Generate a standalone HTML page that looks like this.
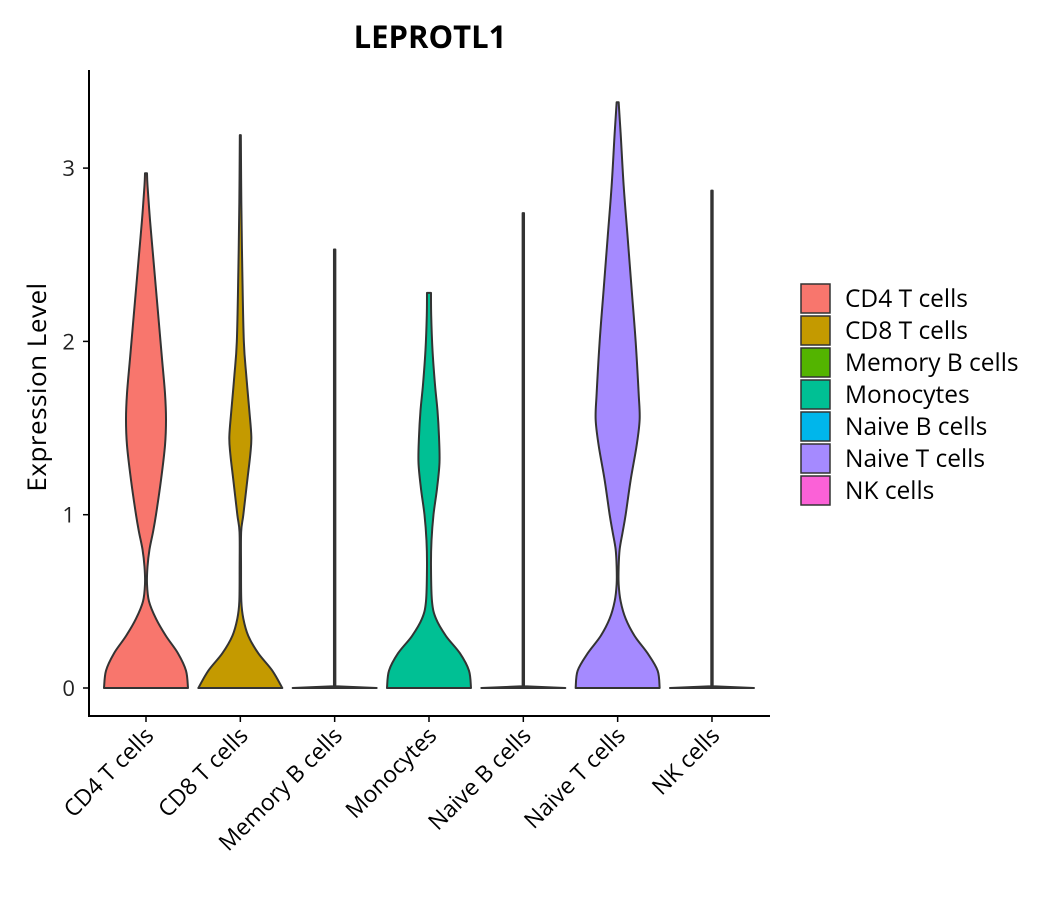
<!DOCTYPE html>
<html><head><meta charset="utf-8"><style>
body{margin:0;background:#fff;font-family:"Open Sans","DejaVu Sans","Liberation Sans",sans-serif}
</style></head><body>
<svg id="chart" width="1050" height="900" xmlns="http://www.w3.org/2000/svg">
<text x="430" y="48" text-anchor="middle" font-size="31" font-weight="bold" fill="#000">LEPROTL1</text>
<text transform="translate(46,387) rotate(-90)" text-anchor="middle" font-size="26" letter-spacing="0.5" fill="#000">Expression Level</text>
<g id="plot"></g>
<g id="legend"></g>
</svg>
<script>
const categories=["CD4 T cells","CD8 T cells","Memory B cells","Monocytes","Naive B cells","Naive T cells","NK cells"];
const colors=["#F8766D","#C49A00","#53B400","#00C094","#00B6EB","#A58AFF","#FB61D7"];
const yTicks=[0,1,2,3];
const maxVals=[2.97,3.19,2.53,2.28,2.74,3.38,2.87];
const densY=[
[0,0.1,0.2,0.3,0.4,0.5,0.6,0.7,0.8,0.9,1.0,1.2,1.4,1.55,1.7,1.9,2.1,2.3,2.5,2.7,2.9,2.97],
[0,0.1,0.2,0.3,0.4,0.5,0.7,0.9,1.0,1.2,1.35,1.45,1.6,1.8,2.0,2.4,2.8,3.19],
[0,0.01,2.53],
[0,0.1,0.2,0.3,0.4,0.5,0.7,0.85,1.0,1.15,1.3,1.45,1.6,1.75,1.95,2.15,2.28],
[0,0.01,2.74],
[0,0.1,0.2,0.3,0.4,0.5,0.6,0.7,0.8,0.9,1.0,1.2,1.4,1.55,1.7,2.0,2.3,2.6,2.9,3.2,3.38],
[0,0.01,2.87]];
const densW=[
[42,40,32,20,10,3,1,1.5,3.5,7,10,15,19,20,19,16,13,10,7,4,1.5,1],
[42,32,18,8,3,1,0.7,0.8,3,7,10,11,9,6,3.5,2,1,0.5],
[42,0.7,0.7],
[42,40,31,17,7,3,2,2.5,4.5,8,10.5,10,8.5,6,3.5,2.2,2],
[42,0.7,0.7],
[42,40,30,17,8,3,1,1,2,5,8,13,19,22,21,18,14,10,6,3,1],
[42,0.7,0.7]];
const X0=146,DX=94.33,Y0=688,PY=173.3;
const xs=i=>X0+i*DX, ys=v=>Y0-v*PY;
const NS="http://www.w3.org/2000/svg";
const plot=document.getElementById('plot');
function mk(t,a,p){const e=document.createElementNS(NS,t);for(const k in a)e.setAttribute(k,a[k]);(p||plot).appendChild(e);return e;}
categories.forEach((c,i)=>{
 const cx=xs(i),yy=densY[i],ww=densW[i];
 const smooth=yy.length>3;
 let right=[],left=[];
 for(let j=0;j<yy.length;j++)right.push([cx+ww[j],ys(yy[j])]);
 for(let j=yy.length-1;j>=0;j--)left.push([cx-ww[j],ys(yy[j])]);
 function seg(pts){
  let d="";
  for(let k=0;k<pts.length-1;k++){
   const p1=pts[k],p2=pts[k+1];
   if(!smooth){d+=" L"+p2[0]+","+p2[1];continue;}
   const p0=pts[Math.max(k-1,0)],p3=pts[Math.min(k+2,pts.length-1)];
   const c1=[p1[0]+(p2[0]-p0[0])/6,Math.min(Y0,p1[1]+(p2[1]-p0[1])/6)],c2=[p2[0]-(p3[0]-p1[0])/6,Math.min(Y0,p2[1]-(p3[1]-p1[1])/6)];
   d+=" C"+c1[0]+","+c1[1]+" "+c2[0]+","+c2[1]+" "+p2[0]+","+p2[1];
  }
  return d;
 }
 let d="M"+right[0][0]+","+right[0][1]+seg(right)+" L"+left[0][0]+","+left[0][1]+seg(left)+"Z";
 const v=mk('path',{d:d,fill:colors[i],stroke:"#333",'stroke-width':2,'stroke-linejoin':'round'});
 
 
 const tk=mk('line',{x1:cx,x2:cx,y1:716,y2:722,stroke:"#000",'stroke-width':1.5});
 
 
 const t=mk('text',{transform:`translate(${cx+9},${737}) rotate(-45)`,'text-anchor':'end','font-size':23,fill:'#000'});
 t.textContent=c;
 
 
});
yTicks.forEach(v=>{
 const y=ys(v);
 const l=mk('line',{x1:83,x2:89,y1:y,y2:y,stroke:"#000",'stroke-width':1.5});
 
 
 const t=mk('text',{x:75,y:y+8,'text-anchor':'end','font-size':22,fill:'#222'});
 t.textContent=v;
 
 
});
const ya=mk('line',{x1:89,x2:89,y1:70,y2:717,stroke:"#000",'stroke-width':2});


const xa=mk('line',{x1:88,x2:770,y1:716,y2:716,stroke:"#000",'stroke-width':2});


const lg=document.getElementById('legend');
categories.forEach((c,i)=>{
 const y=284+i*32;
 const r=mk('rect',{x:801,y:y,width:29,height:29,fill:colors[i],stroke:'#333','stroke-width':1.5},lg);
 
 
 const t=mk('text',{x:845,y:y+23,'font-size':24.5,fill:'#000'},lg);
 t.textContent=c;
 
 
});
</script>
</body></html>
